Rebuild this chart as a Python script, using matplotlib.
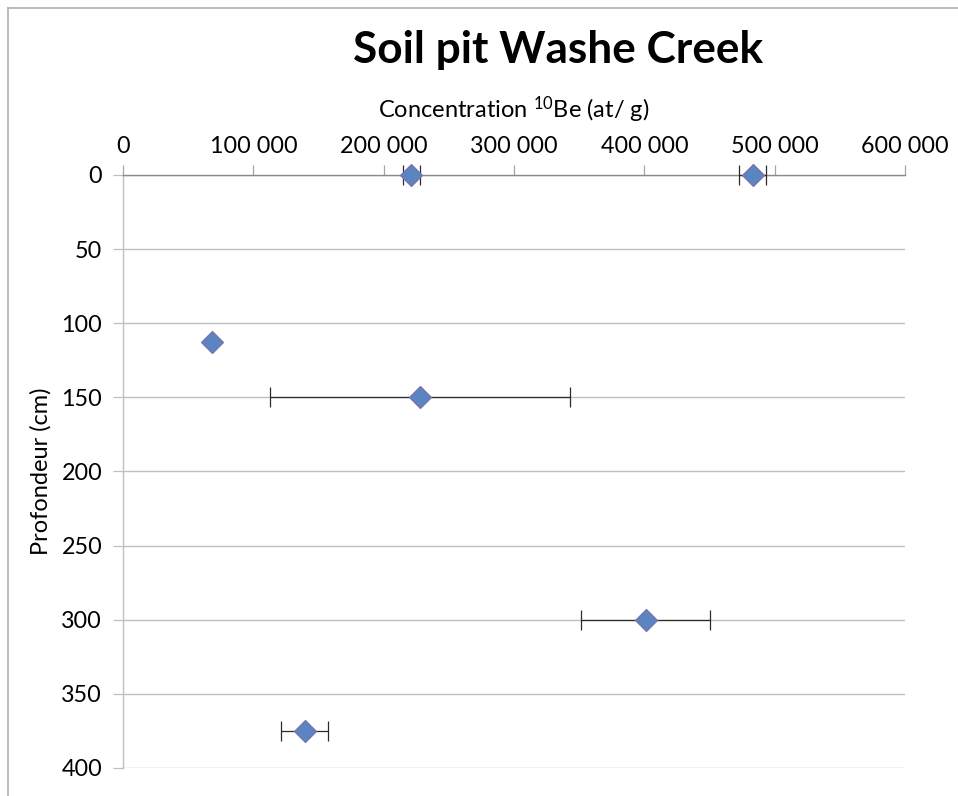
import numpy as np
import matplotlib.pyplot as plt
from matplotlib.lines import Line2D
from matplotlib.ticker import FuncFormatter

plt.rcParams['font.family'] = ['Lato', 'DejaVu Sans']
plt.rcParams['mathtext.fontset'] = 'custom'
plt.rcParams['mathtext.rm'] = 'Lato'

# 10Be concentration profile, Washe Creek soil pit
concentration = [221000, 483000, 68300, 228000, 401000, 139500]
conc_error = [6500, 10000, 0, 115000, 49500, 18000]
depth = [0, 0, 113, 150, 300, 375]

x_ticks = [0, 100000, 200000, 300000, 400000, 500000, 600000]
y_ticks = [0, 50, 100, 150, 200, 250, 300, 350, 400]

fig = plt.figure(figsize=(9.58, 7.96), dpi=100)
ax = fig.add_axes([0.1284, 0.0352, 0.8163, 0.745])

eb = ax.errorbar(concentration, depth, xerr=conc_error, fmt='none',
                 ecolor='#2b2b2b', elinewidth=0.9, capsize=7, capthick=0.9, zorder=3)
for art in eb.lines[1] + eb.lines[2]:
    art.set_clip_on(False)
ax.plot(concentration, depth, linestyle='none', marker='D', markersize=11,
        markerfacecolor='#5a85c1', markeredgecolor='#7b72ae',
        markeredgewidth=0.9, zorder=4, clip_on=False)

ax.set_xlim(0, 600000)
ax.set_ylim(400, 0)
ax.set_xticks(x_ticks)
ax.set_yticks(y_ticks)
ax.xaxis.set_major_formatter(FuncFormatter(lambda v, p: f'{int(v):,}'.replace(',', ' ')))

ax.xaxis.tick_top()
ax.xaxis.set_label_position('top')
ax.tick_params(axis='x', direction='out', length=7, width=0.9, color='#a6a6a6',
               labelsize=16.8, pad=6)
ax.tick_params(axis='y', direction='out', length=7, width=0.9, color='#bfbfbf',
               labelsize=16.8, pad=8)

ax.grid(axis='y', color='#c0c0c0', linewidth=1.0)
ax.set_axisbelow(True)
for side in ['right', 'bottom']:
    ax.spines[side].set_visible(False)
ax.spines['top'].set_color('#8a8a8a')
ax.spines['top'].set_linewidth(1.0)
ax.spines['left'].set_color('#c0c0c0')
ax.spines['left'].set_linewidth(1.0)

ax.set_xlabel(r'Concentration $\mathregular{^{10}}$Be (at/ g)', fontsize=17, labelpad=13)
ax.set_ylabel('Profondeur (cm)', fontsize=17, labelpad=7)

fig.text(0.5825, 0.9209, 'Soil pit Washe Creek', ha='center', va='baseline',
         fontsize=31.8, fontweight='bold')

# chart area frame
fig.add_artist(Line2D([0.0085, 1.0], [0.99, 0.99], transform=fig.transFigure,
                      color='#b0b0b0', linewidth=1.2))
fig.add_artist(Line2D([0.0085, 0.0085], [0.0, 0.99], transform=fig.transFigure,
                      color='#b0b0b0', linewidth=1.2))

fig.savefig('out.png', dpi=100)
